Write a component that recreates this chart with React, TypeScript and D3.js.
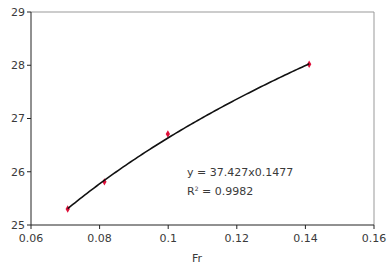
import React from "react";
import * as d3 from "d3";

const frValues = [0.0707, 0.0814, 0.0999, 0.1411];
const yValues = [25.3, 25.81, 26.71, 28.02];
const xTicks = [0.06, 0.08, 0.1, 0.12, 0.14, 0.16];
const xTickLabels = ["0.06", "0.08", "0.1", "0.12", "0.14", "0.16"];
const yTicks = [25, 26, 27, 28, 29];
const fitCoef = 37.427;
const fitExp = 0.1477;
const r2Label = "0.9982";

export default function App() {
  const W = 388, H = 266;
  const left = 31, right = 374, top = 12, bottom = 225;
  const x = d3.scaleLinear().domain([0.06, 0.16]).range([left, right]);
  const y = d3.scaleLinear().domain([25, 29]).range([bottom, top]);
  const font = "'DejaVu Sans', sans-serif";
  const xmin = d3.min(frValues)!, xmax = d3.max(frValues)!;
  const fitXs = d3.range(0, 101).map((i) => xmin + ((xmax - xmin) * i) / 100);
  const line = d3
    .line<number>()
    .x((d) => x(d))
    .y((d) => y(fitCoef * Math.pow(d, fitExp)));
  const diamond = d3.symbol().type(d3.symbolDiamond).size(16)()!;
  const txt = "#3a3a3a";
  return (
    <svg width={W} height={H} style={{ position: "absolute", left: 0, top: 0, background: "#fff" }}>
      <rect x={0} y={0} width={W} height={H} fill="#fff" />
      <line x1={left} x2={right} y1={top} y2={top} stroke="#999" strokeWidth={1} />
      <line x1={right} x2={right} y1={top} y2={bottom} stroke="#999" strokeWidth={1} />
      <line x1={left} x2={left} y1={top} y2={bottom} stroke="#222" strokeWidth={1} />
      <line x1={left} x2={right} y1={bottom} y2={bottom} stroke="#222" strokeWidth={1} />
      {yTicks.map((t) => (
        <g key={"y" + t}>
          <line x1={left - 4} x2={left} y1={y(t)} y2={y(t)} stroke="#222" />
          <text x={left - 6} y={y(t)} dy="0.35em" textAnchor="end" fontSize={11} fontFamily={font} fill={txt}>
            {t}
          </text>
        </g>
      ))}
      {xTicks.map((t, i) => (
        <g key={"x" + t}>
          <line x1={x(t)} x2={x(t)} y1={bottom} y2={bottom + 4} stroke="#222" />
          <text x={x(t)} y={bottom + 17} textAnchor="middle" fontSize={11} fontFamily={font} fill={txt}>
            {xTickLabels[i]}
          </text>
        </g>
      ))}
      <text x={197} y={262} textAnchor="middle" fontSize={11} fontFamily={font} fill={txt}>
        Fr
      </text>
      {frValues.map((v, i) => (
        <path key={"p" + i} d={diamond} transform={`translate(${x(v)},${y(yValues[i])})`} fill="#e0103a" />
      ))}
      <path d={line(fitXs)!} fill="none" stroke="#111" strokeWidth={1.6} />
      <text x={187} y={176} fontSize={11} fontFamily={font} fill={txt}>
        {`y = ${fitCoef}x${fitExp}`}
      </text>
      <text x={187} y={195} fontSize={11} fontFamily={font} fill={txt}>
        R<tspan dy={-4} fontSize={6}>2</tspan>
        <tspan dy={4}>{` = ${r2Label}`}</tspan>
      </text>
    </svg>
  );
}
